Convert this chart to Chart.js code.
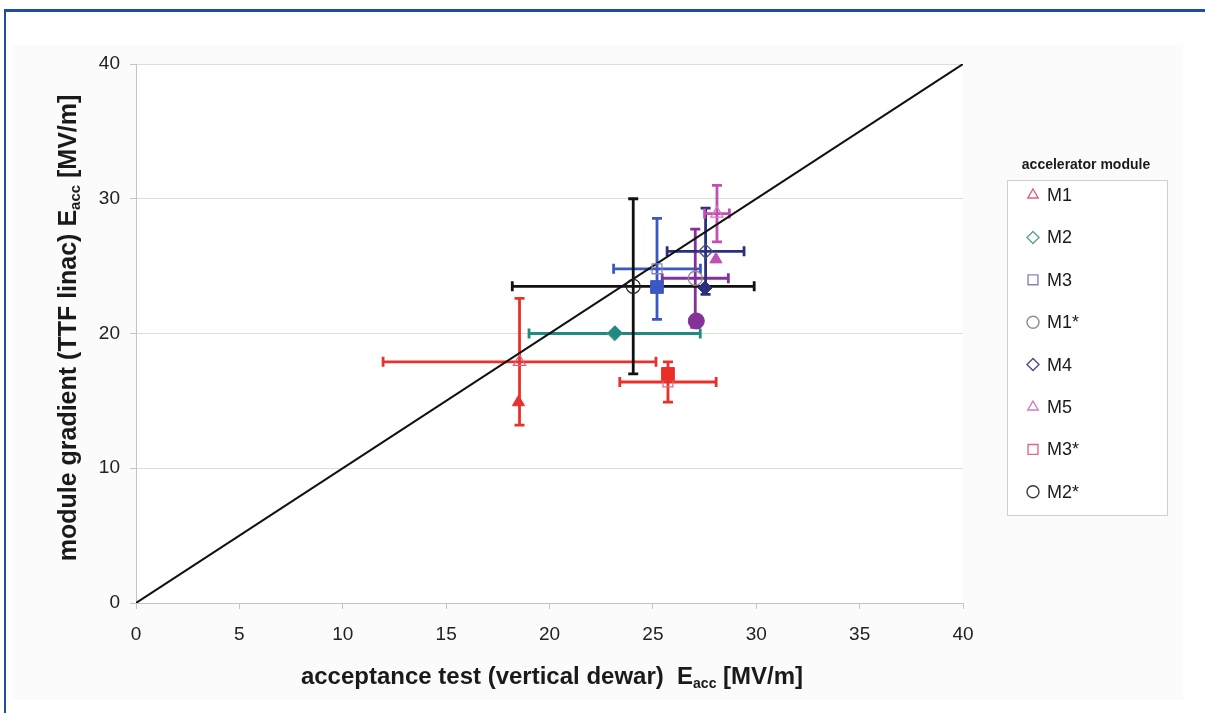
<!DOCTYPE html>
<html>
<head>
<meta charset="utf-8">
<script src="https://cdn.jsdelivr.net/npm/chart.js@4.4.1/dist/chart.umd.min.js"></script>
<style>
  html, body { margin: 0; padding: 0; background: #fff; }
  #wrap { position: relative; width: 1205px; height: 713px; overflow: hidden; }
  #frame { position: absolute; left: 4px; top: 9px; right: -10px; bottom: -10px;
           border-top: 3px solid #1d4f9e; border-left: 2px solid #1d4f9e; pointer-events: none; }
  canvas { display: block; }
</style>
</head>
<body>
<div id="wrap"><canvas id="c" width="1205" height="713"></canvas><div id="frame"></div></div>
<script>
// accelerator modules
const modules = ['M1', 'M2', 'M3', 'M1*', 'M4', 'M5', 'M3*', 'M2*'];
const pointStyles = ['triangle', 'rectRot', 'rect', 'circle', 'rectRot', 'triangle', 'rect', 'circle'];

// cavity averages: acceptance test (x) against TTF linac gradient (y), with spreads
const dewarMean   = [18.55, 23.15, 25.2, 27.05, 27.55, 28.1, 25.73, 24.05];
const dewarSpread = [6.6, 4.14, 2.1, 1.6, 1.86, 0.6, 2.33, 5.85];
const linacMean   = [17.9, 20.0, 24.8, 24.1, 26.1, 28.9, 16.4, 23.5];
const linacSpread = [4.7, 0, 3.75, 3.65, 3.2, 2.1, 1.5, 6.5];

// gradient reached by the module as a whole
const moduleDewar = [18.5, 23.17, 25.2, 27.1, 27.52, 28.05, 25.73, null];
const moduleLinac = [14.9, 20.05, 23.45, 20.93, 23.38, 25.5, 17.0, null];

// reference line E(linac) = E(dewar)
const diagonal = [0, 40];

const xTickStep = 5;
const yTickStep = 10;

const barColors  = ['#e8322c', '#1e8a80', '#3a58c4', '#86309a', '#2b2f7c', '#c250b4', '#ea2e28', '#111111'];
const openColors = ['#e2607c', '#5f9e96', '#8686b6', '#8e8e8e', '#4a4c82', '#d47abc', '#e26a86', '#3a3a3a'];
const fillRadius = [7, 7, 9, 8, 7, 7, 9, 7];

const FONT = "'Liberation Sans', Arial, Helvetica, sans-serif";

const datasets = [];
modules.forEach((m, i) => {
  if (moduleDewar[i] !== null) {
    datasets.push({
      type: 'scatter', label: m + ' module', order: 0,
      data: [{ x: moduleDewar[i], y: moduleLinac[i] }],
      pointStyle: pointStyles[i], pointRadius: fillRadius[i],
      backgroundColor: barColors[i], borderColor: barColors[i], borderWidth: 1
    });
  }
  datasets.push({
    type: 'scatter', label: m, order: 1,
    data: [{ x: dewarMean[i], y: linacMean[i] }],
    pointStyle: pointStyles[i], pointRadius: 7,
    backgroundColor: 'rgba(255,255,255,0)', borderColor: i === 7 ? '#222' : openColors[i], borderWidth: 1.3
  });
});
datasets.push({
  type: 'line', label: 'diagonal', order: 2,
  data: diagonal.map(v => ({ x: v, y: v })),
  borderColor: '#111', borderWidth: 2, pointRadius: 0, fill: false
});

// background panel
const panelPlugin = {
  id: 'panel',
  beforeDraw(chart) {
    const ctx = chart.ctx, a = chart.chartArea;
    ctx.save();
    ctx.fillStyle = '#ffffff';
    ctx.fillRect(0, 0, chart.width, chart.height);
    ctx.fillStyle = '#fbfbfb';
    ctx.fillRect(13, 45, 1170, 655);
    ctx.fillStyle = '#ffffff';
    ctx.fillRect(a.left, a.top, a.right - a.left, a.bottom - a.top);
    ctx.restore();
  }
};

// spread bars around the cavity averages
const errorBarPlugin = {
  id: 'errorBars',
  beforeDatasetsDraw(chart) {
    const ctx = chart.ctx, xs = chart.scales.x, ys = chart.scales.y;
    const cap = 5;
    ctx.save();
    ctx.lineWidth = 2.8;
    ctx.lineCap = 'butt';
    modules.forEach((m, i) => {
      const px = xs.getPixelForValue(dewarMean[i]);
      const py = ys.getPixelForValue(linacMean[i]);
      ctx.strokeStyle = barColors[i];
      if (dewarSpread[i] > 0) {
        const x1 = xs.getPixelForValue(dewarMean[i] - dewarSpread[i]);
        const x2 = xs.getPixelForValue(dewarMean[i] + dewarSpread[i]);
        ctx.beginPath();
        ctx.moveTo(x1, py); ctx.lineTo(x2, py);
        ctx.moveTo(x1, py - cap); ctx.lineTo(x1, py + cap);
        ctx.moveTo(x2, py - cap); ctx.lineTo(x2, py + cap);
        ctx.stroke();
      }
      if (linacSpread[i] > 0) {
        const y1 = ys.getPixelForValue(linacMean[i] - linacSpread[i]);
        const y2 = ys.getPixelForValue(linacMean[i] + linacSpread[i]);
        ctx.beginPath();
        ctx.moveTo(px, y1); ctx.lineTo(px, y2);
        ctx.moveTo(px - cap, y1); ctx.lineTo(px + cap, y1);
        ctx.moveTo(px - cap, y2); ctx.lineTo(px + cap, y2);
        ctx.stroke();
      }
    });
    ctx.restore();
  }
};

// text with a subscript part, drawn centred on (0,0) of the current transform
function drawSubscripted(ctx, parts, size) {
  const big = 'bold ' + size + 'px ' + FONT;
  const small = 'bold ' + Math.round(size * 0.6) + 'px ' + FONT;
  let total = 0;
  parts.forEach(p => { ctx.font = p.sub ? small : big; total += ctx.measureText(p.t).width; });
  let x = -total / 2;
  ctx.textBaseline = 'middle';
  ctx.textAlign = 'left';
  parts.forEach(p => {
    ctx.font = p.sub ? small : big;
    ctx.fillText(p.t, x, p.sub ? size * 0.28 : 0);
    x += ctx.measureText(p.t).width;
  });
}

const titlePlugin = {
  id: 'axisTitles',
  afterDraw(chart) {
    const ctx = chart.ctx;
    ctx.save();
    ctx.fillStyle = '#1a1a1a';
    ctx.translate(552, 677);
    drawSubscripted(ctx, [
      { t: 'acceptance test (vertical dewar)  E' }, { t: 'acc', sub: true }, { t: ' [MV/m]' }
    ], 24);
    ctx.restore();

    ctx.save();
    ctx.fillStyle = '#1a1a1a';
    ctx.translate(69, 328);
    ctx.rotate(-Math.PI / 2);
    drawSubscripted(ctx, [
      { t: 'module gradient (TTF linac) E' }, { t: 'acc', sub: true }, { t: ' [MV/m]' }
    ], 25);
    ctx.restore();
  }
};

// boxed legend listing the modules with open markers
const legendPlugin = {
  id: 'moduleLegend',
  afterDraw(chart) {
    const ctx = chart.ctx;
    const box = { left: 1007, top: 180, right: 1167, bottom: 515 };
    ctx.save();
    ctx.fillStyle = '#1a1a1a';
    ctx.font = 'bold 14px ' + FONT;
    ctx.textAlign = 'center';
    ctx.textBaseline = 'middle';
    ctx.fillText('accelerator module', 1086, 165);

    ctx.fillStyle = '#ffffff';
    ctx.fillRect(box.left, box.top, box.right - box.left, box.bottom - box.top);
    ctx.strokeStyle = '#cfcfcf';
    ctx.lineWidth = 1;
    ctx.strokeRect(box.left + 0.5, box.top + 0.5, box.right - box.left, box.bottom - box.top);

    modules.forEach((m, i) => {
      const y = 195 + i * 42.4;
      ctx.strokeStyle = openColors[i];
      ctx.fillStyle = 'rgba(255,255,255,0)';
      ctx.lineWidth = 1.4;
      Chart.helpers.drawPoint(ctx, { pointStyle: pointStyles[i], radius: pointStyles[i] === 'rect' ? 7 : 6, borderWidth: 1.4 }, 1033, y);
      ctx.fillStyle = '#1a1a1a';
      ctx.font = '18px ' + FONT;
      ctx.textAlign = 'left';
      ctx.textBaseline = 'middle';
      ctx.fillText(m, 1047, y + 1);
    });
    ctx.restore();
  }
};

new Chart(document.getElementById('c'), {
  type: 'scatter',
  data: { datasets },
  plugins: [panelPlugin, errorBarPlugin, titlePlugin, legendPlugin],
  options: {
    responsive: false,
    devicePixelRatio: 1,
    animation: false,
    layout: { padding: { left: 86, right: 242, top: 64, bottom: 60 } },
    plugins: { legend: { display: false }, tooltip: { enabled: false } },
    scales: {
      x: {
        type: 'linear', min: 0, max: 40,
        afterFit(scale) { scale.height = 50; },
        ticks: { stepSize: xTickStep, color: '#222', font: { family: FONT, size: 19 }, padding: 14, maxRotation: 0 },
        grid: { drawOnChartArea: false, drawTicks: true, tickLength: 6, tickColor: '#c4c4c4' },
        border: { color: '#c4c4c4', width: 1 }
      },
      y: {
        type: 'linear', min: 0, max: 40,
        afterFit(scale) { scale.width = 50; },
        ticks: { stepSize: yTickStep, color: '#222', font: { family: FONT, size: 19 }, padding: 10 },
        grid: { color: '#dcdcdc', drawTicks: true, tickLength: 6, tickColor: '#c4c4c4' },
        border: { color: '#c4c4c4', width: 1 }
      }
    }
  }
});
</script>
</body>
</html>
